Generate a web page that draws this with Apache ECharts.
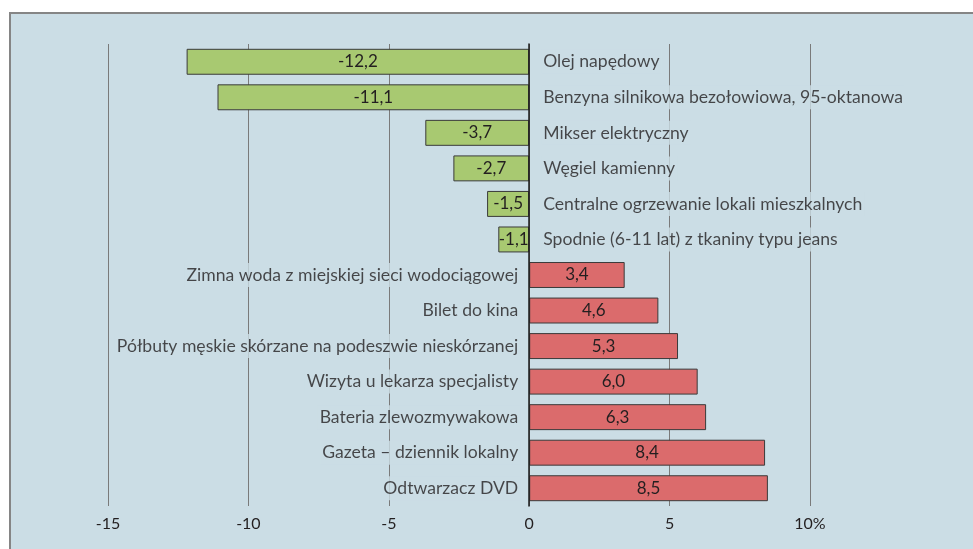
<!DOCTYPE html>
<html>
<head>
<meta charset="utf-8">
<script src="https://cdn.jsdelivr.net/npm/echarts@6/dist/echarts.min.js"></script>
<style>
  html, body { margin: 0; padding: 0; background: #fff; }
  #main {
    position: absolute; left: 9px; top: 12px;
    width: 962px; height: 535px;
    background: #cbdde5;
    border-top: 2px solid #858585;
    border-left: 2px solid #858585;
  }
</style>
</head>
<body>
<div id="main"></div>
<script>
'use strict';
/* price changes, % */

var categories = [
  'Olej napędowy',
  'Benzyna silnikowa bezołowiowa, 95-oktanowa',
  'Mikser elektryczny',
  'Węgiel kamienny',
  'Centralne ogrzewanie lokali mieszkalnych',
  'Spodnie (6-11 lat) z tkaniny typu jeans',
  'Zimna woda z miejskiej sieci wodociągowej',
  'Bilet do kina',
  'Półbuty męskie skórzane na podeszwie nieskórzanej',
  'Wizyta u lekarza specjalisty',
  'Bateria zlewozmywakowa',
  'Gazeta – dziennik lokalny',
  'Odtwarzacz DVD'
];
var values = [-12.2, -11.1, -3.7, -2.7, -1.5, -1.1, 3.4, 4.6, 5.3, 6.0, 6.3, 8.4, 8.5];
var tickLabels = { '-15': '-15', '-10': '-10', '-5': '-5', '0': '0', '5': '5', '10': '10%' };

var FONT = 'Lato';
var TEXT = '#231f20';

var chart = echarts.init(document.getElementById('main'));

// category names sit next to the zero line, on the side opposite to the bar
var nameData = categories.map(function(c, i) {
  var neg = values[i] < 0;
  return {
    value: [0, c],
    label: { position: neg ? 'right' : 'left', distance: neg ? 12 : 9 }
  };
});

var option = {
  animation: false,
  textStyle: { fontFamily: FONT },
  grid: { left: 97, right: 163, top: 30, bottom: 43 },
  xAxis: {
    type: 'value',
    min: -15,
    max: 10,
    interval: 5,
    axisLine: { show: false },
    axisTick: { show: false },
    axisLabel: {
      margin: 10,
      fontSize: 16,
      color: TEXT,
      fontFamily: FONT,
      formatter: function(v) { return tickLabels[String(v)]; }
    },
    splitLine: { show: true, lineStyle: { color: '#7a7a7a', width: 1 } }
  },
  yAxis: {
    type: 'category',
    inverse: true,
    data: categories,
    axisLine: { show: true, onZero: true, lineStyle: { color: '#1a1a1a', width: 1.5 } },
    axisTick: { show: false },
    axisLabel: { show: false },
    z: 5
  },
  series: [{
    type: 'bar',
    data: values,
    barWidth: '73%',
    itemStyle: {
      color: function(p) { return p.value < 0 ? '#a8c971' : '#db6b6c'; },
      borderColor: '#3a3a3a',
      borderWidth: 1
    },
    label: {
      show: true,
      position: 'inside',
      fontSize: 17,
      color: TEXT,
      fontFamily: FONT,
      formatter: function(p) { return p.value.toFixed(1).replace('.', ','); }
    }
  }, {
    type: 'scatter',
    data: nameData,
    symbolSize: 0,
    silent: true,
    label: {
      show: true,
      fontSize: 17.6,
      color: TEXT,
      fontFamily: FONT,
      backgroundColor: '#cbdde5',
      padding: [3, 2],
      formatter: function(p) { return p.value[1]; }
    },
    z: 4
  }]
};

chart.setOption(option);
</script>
</body>
</html>
